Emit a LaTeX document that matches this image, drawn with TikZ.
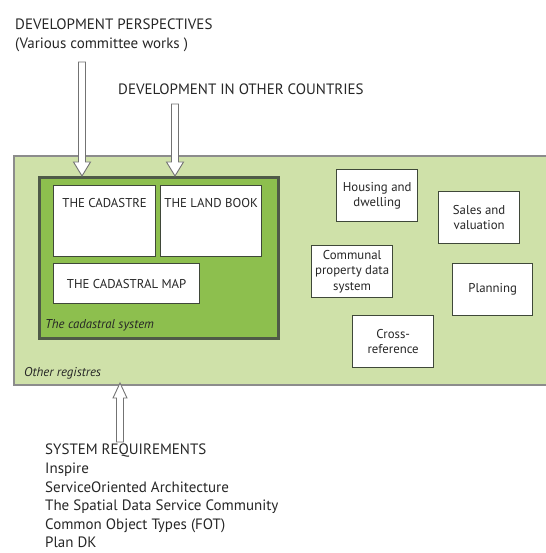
\documentclass[tikz,border=0pt]{standalone}
\usepackage{fontspec}
\setmainfont{PT Sans}
\usetikzlibrary{calc,positioning}
\definecolor{outerfill}{HTML}{CFE1A9}
\definecolor{innerfill}{HTML}{8DBF4E}
\definecolor{innerline}{HTML}{4F5A47}
\definecolor{frameline}{HTML}{8C8C8C}
\definecolor{txt}{HTML}{262626}
\tikzset{
  outerbox/.style={draw=frameline, line width=2pt, fill=outerfill, inner sep=0pt, anchor=north west},
  innerbox/.style={draw=innerline, line width=3pt, fill=innerfill, inner sep=0pt, anchor=north west},
  wbox/.style={draw=innerline!80!black, line width=1.3pt, fill=white, inner sep=0pt, anchor=north west, align=center, font=\fontsize{12.8}{15.5}\selectfont, text=txt},
  boxtext/.style={font=\fontsize{12.8}{15.5}\selectfont, text=txt, inner sep=0pt},
  headtext/.style={font=\fontsize{15}{19}\selectfont, text=txt, inner sep=0pt, anchor=west},
  listtext/.style={font=\fontsize{15}{18.6}\selectfont, text=txt, inner sep=0pt, anchor=north west, align=left},
  itext/.style={font=\fontsize{12.8}{15}\selectfont\itshape, text=txt, inner sep=0pt, anchor=west},
  barrow/.style={draw=gray!90!black, line width=0.9pt, fill=white, line join=miter},
}
\begin{document}
\begin{tikzpicture}[x=1pt,y=-1pt]
\useasboundingbox (0,0) rectangle (545,553);
% outer and inner containers
\node[outerbox, minimum width=545, minimum height=229] (outer) at (13,155) {};
\node[innerbox, minimum width=239, minimum height=161] (inner) at (38,176) {};
% cadastral boxes
\node[wbox, minimum width=102, minimum height=71] (cad) at (53,185) {};
\node[boxtext] (cadt) at ([yshift=-18pt]cad.north) {THE CADASTRE};
\node[wbox, minimum width=101, minimum height=71] (land) at (160,185) {};
\node[boxtext] (landt) at ([yshift=-18pt]land.north) {THE LAND BOOK};
\node[wbox, minimum width=146, minimum height=40] (map) at (53,263) {THE CADASTRAL MAP};
\node[itext] (cadsys) at (45,325) {The cadastral system};
\node[itext] (other) at (24,373) {Other registres};
% other registers
\node[wbox, minimum width=81, minimum height=52] (house) at (336,169) {Housing and\\dwelling};
\node[wbox, minimum width=81, minimum height=52] (sales) at (438,191) {Sales and\\valuation};
\node[wbox, minimum width=81, minimum height=52] (comm) at (311,245) {Communal\\property data\\system};
\node[wbox, minimum width=80, minimum height=52] (plan) at (452,263) {Planning};
\node[wbox, minimum width=81, minimum height=52] (cross) at (352,315) {Cross-\\reference};
% texts
\node[headtext] (devp) at (15,24) {DEVELOPMENT PERSPECTIVES};
\node[headtext] (devw) at (15,45) {(Various committee works )};
\node[headtext] (devo) at (118,89) {DEVELOPMENT IN OTHER COUNTRIES};
\node[listtext] (req) at (45,444) {SYSTEM REQUIREMENTS\\Inspire\\ServiceOriented Architecture\\The Spatial Data Service Community\\Common Object Types (FOT)\\Plan DK};
% block arrows
\coordinate (a1s) at (82,62);
\coordinate (a1t) at (82,176);
\coordinate (a2s) at (175,104);
\coordinate (a2t) at (175,176);
\coordinate (a3s) at (120,442);
\coordinate (a3t) at (120,383);
\draw[barrow] ($(a1s)+(-3.5,0)$) -- ($(a1t)+(-3.5,-14)$) -- ($(a1t)+(-8.5,-14)$) -- (a1t) -- ($(a1t)+(8.5,-14)$) -- ($(a1t)+(3.5,-14)$) -- ($(a1s)+(3.5,0)$) -- cycle;
\draw[barrow] ($(a2s)+(-3.5,0)$) -- ($(a2t)+(-3.5,-14)$) -- ($(a2t)+(-8.5,-14)$) -- (a2t) -- ($(a2t)+(8.5,-14)$) -- ($(a2t)+(3.5,-14)$) -- ($(a2s)+(3.5,0)$) -- cycle;
\draw[barrow] ($(a3s)+(-3.5,0)$) -- ($(a3t)+(-3.5,15)$) -- ($(a3t)+(-7,15)$) -- (a3t) -- ($(a3t)+(7,15)$) -- ($(a3t)+(3.5,15)$) -- ($(a3s)+(3.5,0)$) -- cycle;
\end{tikzpicture}
\end{document}
